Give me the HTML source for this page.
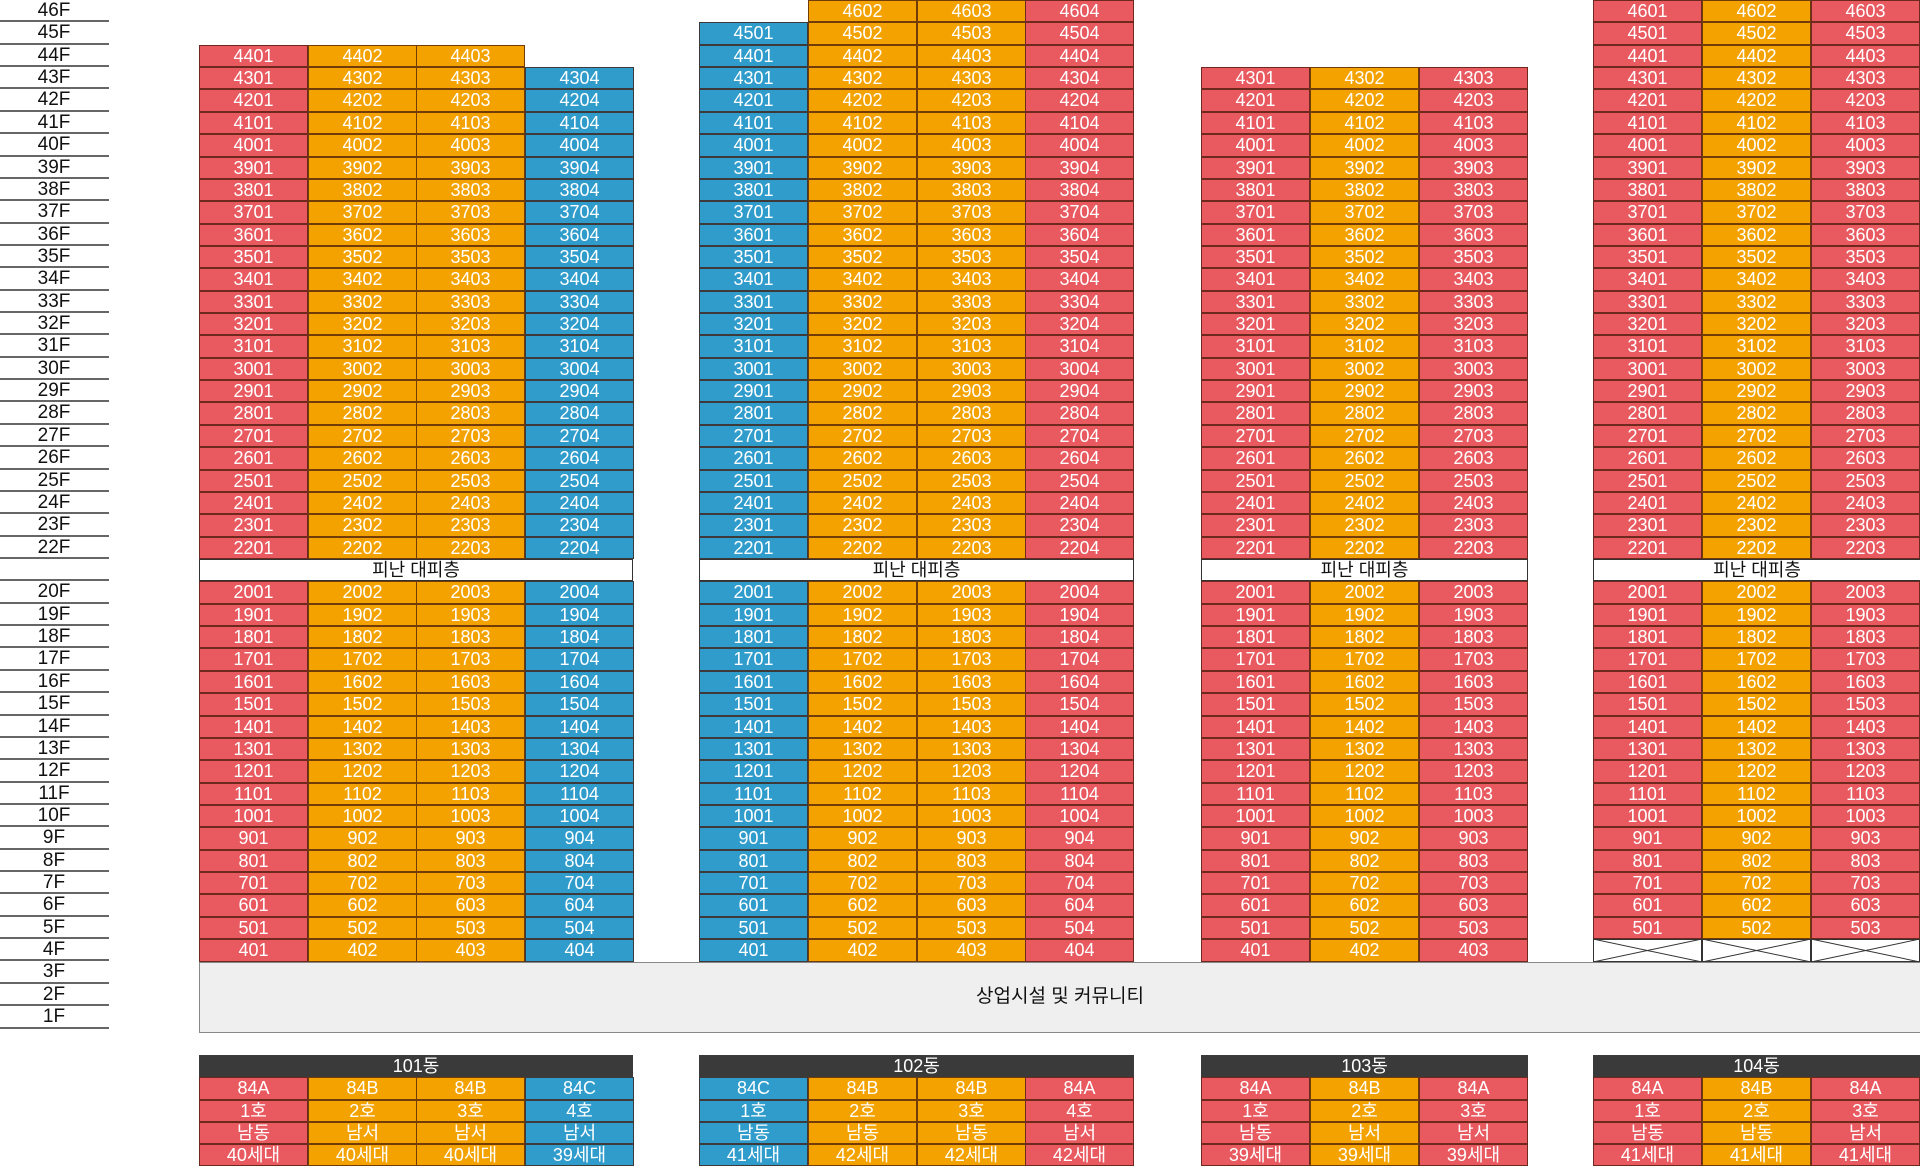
<!DOCTYPE html>
<html><head><meta charset="utf-8"><style>
body{margin:0;width:1920px;height:1168px;background:#fff;position:relative;overflow:hidden;font-family:"Liberation Sans","Noto Sans CJK KR",sans-serif}
.fl{position:absolute;left:0;top:0;width:109px}
.fl div{height:22.36px;box-sizing:border-box;border-bottom:2px solid #666;text-align:center;font-size:19px;line-height:22px;color:#111;padding-right:1px}
.c{position:absolute;width:109px}
.c p{margin:0;height:22.36px;box-sizing:border-box;border:1px solid rgba(70,25,10,.75);text-align:center;color:#fff;font-size:18px;line-height:21px}
.r p{background:#e85a60}.o p{background:#f4a200}.b p{background:#2f9ccc}
.u{top:0}
.ref{position:absolute;top:559px;height:22.4px;box-sizing:border-box;border:1px solid #333;background:#fff;text-align:center;font-size:18px;line-height:20px;color:#111}
.com{position:absolute;left:199px;top:961.5px;width:1721px;height:71px;box-sizing:border-box;border:1px solid #888;border-right:none;background:#efefef;text-align:center;line-height:68px;font-size:19px;color:#111}
.hd{position:absolute;top:1055px;height:22.3px;background:#3a3a3a;color:#fff;text-align:center;font-size:18px;line-height:22px}
.ft{top:1077.3px}
.ft p{height:22.3px}
</style></head><body>
<div class="fl">
<div>46F</div><div>45F</div><div>44F</div><div>43F</div><div>42F</div><div>41F</div><div>40F</div><div>39F</div><div>38F</div><div>37F</div><div>36F</div><div>35F</div><div>34F</div><div>33F</div><div>32F</div><div>31F</div><div>30F</div><div>29F</div><div>28F</div><div>27F</div><div>26F</div><div>25F</div><div>24F</div><div>23F</div><div>22F</div><div></div><div>20F</div><div>19F</div><div>18F</div><div>17F</div><div>16F</div><div>15F</div><div>14F</div><div>13F</div><div>12F</div><div>11F</div><div>10F</div><div>9F</div><div>8F</div><div>7F</div><div>6F</div><div>5F</div><div>4F</div><div>3F</div><div>2F</div><div>1F</div>
</div>

<!-- 101 -->
<div class="c r" style="left:199px;top:44.72px"><p>4401<p>4301<p>4201<p>4101<p>4001<p>3901<p>3801<p>3701<p>3601<p>3501<p>3401<p>3301<p>3201<p>3101<p>3001<p>2901<p>2801<p>2701<p>2601<p>2501<p>2401<p>2301<p>2201</div>
<div class="c o" style="left:308px;top:44.72px"><p>4402<p>4302<p>4202<p>4102<p>4002<p>3902<p>3802<p>3702<p>3602<p>3502<p>3402<p>3302<p>3202<p>3102<p>3002<p>2902<p>2802<p>2702<p>2602<p>2502<p>2402<p>2302<p>2202</div>
<div class="c o" style="left:416px;top:44.72px"><p>4403<p>4303<p>4203<p>4103<p>4003<p>3903<p>3803<p>3703<p>3603<p>3503<p>3403<p>3303<p>3203<p>3103<p>3003<p>2903<p>2803<p>2703<p>2603<p>2503<p>2403<p>2303<p>2203</div>
<div class="c b" style="left:525px;top:67.08px"><p>4304<p>4204<p>4104<p>4004<p>3904<p>3804<p>3704<p>3604<p>3504<p>3404<p>3304<p>3204<p>3104<p>3004<p>2904<p>2804<p>2704<p>2604<p>2504<p>2404<p>2304<p>2204</div>
<div class="ref" style="left:199px;width:434px">피난 대피층</div>
<div class="c r" style="left:199px;top:581.4px"><p>2001<p>1901<p>1801<p>1701<p>1601<p>1501<p>1401<p>1301<p>1201<p>1101<p>1001<p>901<p>801<p>701<p>601<p>501<p>401</div>
<div class="c o" style="left:308px;top:581.4px"><p>2002<p>1902<p>1802<p>1702<p>1602<p>1502<p>1402<p>1302<p>1202<p>1102<p>1002<p>902<p>802<p>702<p>602<p>502<p>402</div>
<div class="c o" style="left:416px;top:581.4px"><p>2003<p>1903<p>1803<p>1703<p>1603<p>1503<p>1403<p>1303<p>1203<p>1103<p>1003<p>903<p>803<p>703<p>603<p>503<p>403</div>
<div class="c b" style="left:525px;top:581.4px"><p>2004<p>1904<p>1804<p>1704<p>1604<p>1504<p>1404<p>1304<p>1204<p>1104<p>1004<p>904<p>804<p>704<p>604<p>504<p>404</div>

<!-- 102 -->
<div class="c b" style="left:699px;top:22.36px"><p>4501<p>4401<p>4301<p>4201<p>4101<p>4001<p>3901<p>3801<p>3701<p>3601<p>3501<p>3401<p>3301<p>3201<p>3101<p>3001<p>2901<p>2801<p>2701<p>2601<p>2501<p>2401<p>2301<p>2201</div>
<div class="c o" style="left:808px;top:0"><p>4602<p>4502<p>4402<p>4302<p>4202<p>4102<p>4002<p>3902<p>3802<p>3702<p>3602<p>3502<p>3402<p>3302<p>3202<p>3102<p>3002<p>2902<p>2802<p>2702<p>2602<p>2502<p>2402<p>2302<p>2202</div>
<div class="c o" style="left:917px;top:0"><p>4603<p>4503<p>4403<p>4303<p>4203<p>4103<p>4003<p>3903<p>3803<p>3703<p>3603<p>3503<p>3403<p>3303<p>3203<p>3103<p>3003<p>2903<p>2803<p>2703<p>2603<p>2503<p>2403<p>2303<p>2203</div>
<div class="c r" style="left:1025px;top:0"><p>4604<p>4504<p>4404<p>4304<p>4204<p>4104<p>4004<p>3904<p>3804<p>3704<p>3604<p>3504<p>3404<p>3304<p>3204<p>3104<p>3004<p>2904<p>2804<p>2704<p>2604<p>2504<p>2404<p>2304<p>2204</div>
<div class="ref" style="left:699px;width:435px">피난 대피층</div>
<div class="c b" style="left:699px;top:581.4px"><p>2001<p>1901<p>1801<p>1701<p>1601<p>1501<p>1401<p>1301<p>1201<p>1101<p>1001<p>901<p>801<p>701<p>601<p>501<p>401</div>
<div class="c o" style="left:808px;top:581.4px"><p>2002<p>1902<p>1802<p>1702<p>1602<p>1502<p>1402<p>1302<p>1202<p>1102<p>1002<p>902<p>802<p>702<p>602<p>502<p>402</div>
<div class="c o" style="left:917px;top:581.4px"><p>2003<p>1903<p>1803<p>1703<p>1603<p>1503<p>1403<p>1303<p>1203<p>1103<p>1003<p>903<p>803<p>703<p>603<p>503<p>403</div>
<div class="c r" style="left:1025px;top:581.4px"><p>2004<p>1904<p>1804<p>1704<p>1604<p>1504<p>1404<p>1304<p>1204<p>1104<p>1004<p>904<p>804<p>704<p>604<p>504<p>404</div>

<!-- 103 -->
<div class="c r" style="left:1201px;top:67.08px"><p>4301<p>4201<p>4101<p>4001<p>3901<p>3801<p>3701<p>3601<p>3501<p>3401<p>3301<p>3201<p>3101<p>3001<p>2901<p>2801<p>2701<p>2601<p>2501<p>2401<p>2301<p>2201</div>
<div class="c o" style="left:1310px;top:67.08px"><p>4302<p>4202<p>4102<p>4002<p>3902<p>3802<p>3702<p>3602<p>3502<p>3402<p>3302<p>3202<p>3102<p>3002<p>2902<p>2802<p>2702<p>2602<p>2502<p>2402<p>2302<p>2202</div>
<div class="c r" style="left:1419px;top:67.08px"><p>4303<p>4203<p>4103<p>4003<p>3903<p>3803<p>3703<p>3603<p>3503<p>3403<p>3303<p>3203<p>3103<p>3003<p>2903<p>2803<p>2703<p>2603<p>2503<p>2403<p>2303<p>2203</div>
<div class="ref" style="left:1201px;width:327px">피난 대피층</div>
<div class="c r" style="left:1201px;top:581.4px"><p>2001<p>1901<p>1801<p>1701<p>1601<p>1501<p>1401<p>1301<p>1201<p>1101<p>1001<p>901<p>801<p>701<p>601<p>501<p>401</div>
<div class="c o" style="left:1310px;top:581.4px"><p>2002<p>1902<p>1802<p>1702<p>1602<p>1502<p>1402<p>1302<p>1202<p>1102<p>1002<p>902<p>802<p>702<p>602<p>502<p>402</div>
<div class="c r" style="left:1419px;top:581.4px"><p>2003<p>1903<p>1803<p>1703<p>1603<p>1503<p>1403<p>1303<p>1203<p>1103<p>1003<p>903<p>803<p>703<p>603<p>503<p>403</div>

<!-- 104 -->
<div class="c r" style="left:1593px;top:0"><p>4601<p>4501<p>4401<p>4301<p>4201<p>4101<p>4001<p>3901<p>3801<p>3701<p>3601<p>3501<p>3401<p>3301<p>3201<p>3101<p>3001<p>2901<p>2801<p>2701<p>2601<p>2501<p>2401<p>2301<p>2201</div>
<div class="c o" style="left:1702px;top:0"><p>4602<p>4502<p>4402<p>4302<p>4202<p>4102<p>4002<p>3902<p>3802<p>3702<p>3602<p>3502<p>3402<p>3302<p>3202<p>3102<p>3002<p>2902<p>2802<p>2702<p>2602<p>2502<p>2402<p>2302<p>2202</div>
<div class="c r" style="left:1811px;top:0"><p>4603<p>4503<p>4403<p>4303<p>4203<p>4103<p>4003<p>3903<p>3803<p>3703<p>3603<p>3503<p>3403<p>3303<p>3203<p>3103<p>3003<p>2903<p>2803<p>2703<p>2603<p>2503<p>2403<p>2303<p>2203</div>
<div class="ref" style="left:1593px;width:327px;border-right:none">피난 대피층</div>
<div class="c r" style="left:1593px;top:581.4px"><p>2001<p>1901<p>1801<p>1701<p>1601<p>1501<p>1401<p>1301<p>1201<p>1101<p>1001<p>901<p>801<p>701<p>601<p>501</div>
<div class="c o" style="left:1702px;top:581.4px"><p>2002<p>1902<p>1802<p>1702<p>1602<p>1502<p>1402<p>1302<p>1202<p>1102<p>1002<p>902<p>802<p>702<p>602<p>502</div>
<div class="c r" style="left:1811px;top:581.4px"><p>2003<p>1903<p>1803<p>1703<p>1603<p>1503<p>1403<p>1303<p>1203<p>1103<p>1003<p>903<p>803<p>703<p>603<p>503</div>
<svg style="position:absolute;left:1593px;top:939.2px" width="327" height="23" viewBox="0 0 327 23">
<g stroke="#333" stroke-width="1" fill="none">
<rect x="0.5" y="0.5" width="108" height="22"/><rect x="109.5" y="0.5" width="108" height="22"/><rect x="218.5" y="0.5" width="108" height="22"/>
<path d="M0 0L109 23M109 0L0 23M109 0L218 23M218 0L109 23M218 0L327 23M327 0L218 23"/></g></svg>

<div class="com">상업시설 및 커뮤니티</div>

<!-- footers -->
<div class="hd" style="left:199px;width:434px">101동</div>
<div class="c r ft" style="left:199px"><p>84A<p>1호<p>남동<p>40세대</div>
<div class="c o ft" style="left:308px"><p>84B<p>2호<p>남서<p>40세대</div>
<div class="c o ft" style="left:416px"><p>84B<p>3호<p>남서<p>40세대</div>
<div class="c b ft" style="left:525px"><p>84C<p>4호<p>남서<p>39세대</div>

<div class="hd" style="left:699px;width:435px">102동</div>
<div class="c b ft" style="left:699px"><p>84C<p>1호<p>남동<p>41세대</div>
<div class="c o ft" style="left:808px"><p>84B<p>2호<p>남동<p>42세대</div>
<div class="c o ft" style="left:917px"><p>84B<p>3호<p>남동<p>42세대</div>
<div class="c r ft" style="left:1025px"><p>84A<p>4호<p>남서<p>42세대</div>

<div class="hd" style="left:1201px;width:327px">103동</div>
<div class="c r ft" style="left:1201px"><p>84A<p>1호<p>남동<p>39세대</div>
<div class="c o ft" style="left:1310px"><p>84B<p>2호<p>남서<p>39세대</div>
<div class="c r ft" style="left:1419px"><p>84A<p>3호<p>남서<p>39세대</div>

<div class="hd" style="left:1593px;width:327px">104동</div>
<div class="c r ft" style="left:1593px"><p>84A<p>1호<p>남동<p>41세대</div>
<div class="c o ft" style="left:1702px"><p>84B<p>2호<p>남동<p>41세대</div>
<div class="c r ft" style="left:1811px"><p>84A<p>3호<p>남서<p>41세대</div>
</body></html>
